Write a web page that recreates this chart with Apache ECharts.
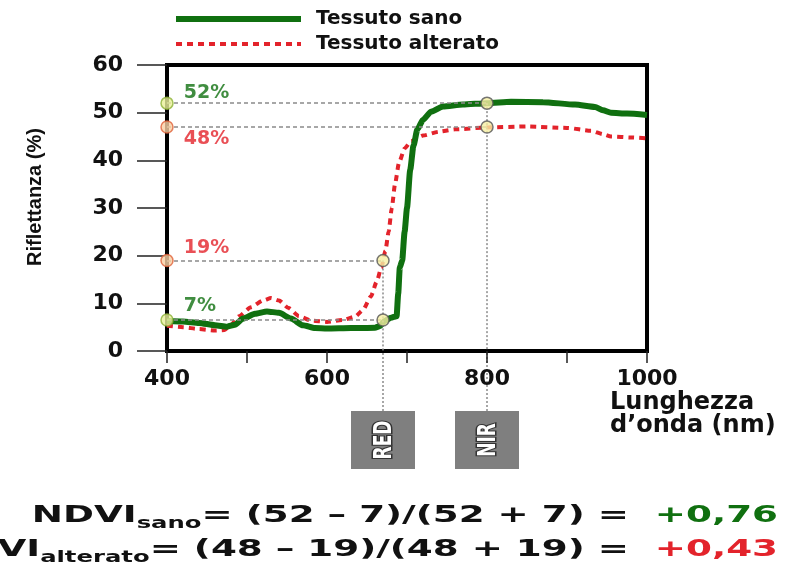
<!DOCTYPE html>
<html><head><meta charset="utf-8">
<script src="https://cdn.jsdelivr.net/npm/echarts@6/dist/echarts.min.js"></script>
<style>html,body{margin:0;padding:0;background:#fff}#c{width:793px;height:567px}</style>
</head><body><div id="c"></div>
<script>
// ---- data ----
const sanoX = [400,420,440,460,475,485,495,510,525,540,555,570,585,600,630,660,666,672,680,687,689,691,694,697,700,704,708,713,720,730,745,770,800,830,870,910,935,945,955,975,1000];
const sanoY = [6.3,6.2,5.9,5.4,5.1,5.5,6.8,7.8,8.3,8.0,6.8,5.4,4.8,4.7,4.8,4.9,5.2,6.3,7.0,7.3,12,17.5,19,25,30,38,43,46.5,48.5,50.2,51.3,51.7,52,52.3,52.2,51.7,51.2,50.5,50,49.8,49.5];
const altX = [400,420,440,460,472,480,490,505,520,530,540,552,565,580,600,620,635,645,655,662,668,673,677,681,685,690,697,705,720,740,760,800,850,900,930,945,955,980,1000];
const altY = [5.3,5.0,4.6,4.3,4.4,5.5,7.3,9.2,10.6,11.1,10.6,9.0,7.3,6.4,6.1,6.5,7.2,8.6,11.5,14.5,17.5,21,25,30,35,39.5,42.5,44,45.2,46,46.5,46.9,47.1,46.8,46.2,45.5,45,44.8,44.6];
const xTickLabels = [400, 600, 800, 1000];
const bandNames = ['RED', 'NIR'];
const bandNm = [670, 800];
const sanoRef = [6.5, 52];      // drawn reflectance at RED, NIR
const altRef = [19, 47];
const sanoRefLabel = [7, 52];   // printed percentages
const altRefLabel = [19, 48];
const seriesNames = ['Tessuto sano', 'Tessuto alterato'];

const GREEN = '#107010', RED = '#e3232b';
const chart = echarts.init(document.getElementById('c'), null, {renderer: 'canvas'});

function leftMarker(v, txt, color, fill, stroke, dy) {
  return {value: [400, v], symbolSize: 12,
    itemStyle: {color: fill, borderColor: stroke, borderWidth: 1.5},
    label: {show: true, formatter: txt + '%', position: 'right', distance: 10, offset: [0, dy],
      color: color, fontFamily: 'DejaVu Sans', fontWeight: 'bold', fontSize: 19}};
}
function innerMarker(x, v) {
  return {value: [x, v], symbolSize: 12,
    itemStyle: {color: '#f6efa2', borderColor: '#555', borderWidth: 1.5}};
}
const pts = [
  leftMarker(sanoRef[1], sanoRefLabel[1], GREEN, '#e9f09a', '#8fb33a', -10),
  leftMarker(altRef[1], altRefLabel[1], RED, '#f9cfa4', '#e0623a', 12),
  leftMarker(altRef[0], altRefLabel[0], RED, '#f9cfa4', '#e0623a', -12),
  leftMarker(sanoRef[0], sanoRefLabel[0], GREEN, '#e9f09a', '#8fb33a', -14),
  innerMarker(bandNm[1], sanoRef[1]), innerMarker(bandNm[1], altRef[1]),
  innerMarker(bandNm[0], altRef[0]), innerMarker(bandNm[0], sanoRef[0])
];
const guides = [
  [{coord: [400, sanoRef[1]]}, {coord: [bandNm[1], sanoRef[1]]}],
  [{coord: [400, altRef[1]]}, {coord: [bandNm[1], altRef[1]]}],
  [{coord: [400, altRef[0]]}, {coord: [bandNm[0], altRef[0]]}],
  [{coord: [400, sanoRef[0]]}, {coord: [bandNm[0], sanoRef[0]]}],
  [{coord: [bandNm[0], altRef[0]], lineStyle: {type: [2, 2]}}, {coord: [bandNm[0], 0]}],
  [{coord: [bandNm[1], sanoRef[1]], lineStyle: {type: [2, 2]}}, {coord: [bandNm[1], 0]}]
];

const axisFont = {fontFamily: 'DejaVu Sans', fontWeight: 'bold', fontSize: 22, color: '#111'};
chart.setOption({
  animation: false,
  backgroundColor: '#fff',
  grid: {left: 167, right: 146, top: 65, bottom: 216, show: true, borderColor: '#000', borderWidth: 4,
    backgroundColor: 'transparent', containLabel: false, outerBoundsMode: 'none'},
  legend: {
    orient: 'vertical', left: 173, top: 9, padding: 0, itemWidth: 125, itemHeight: 14, itemGap: 5,
    textStyle: {fontFamily: 'DejaVu Sans', fontWeight: 'bold', fontSize: 20, color: '#111', padding: [0, 0, 0, 10]},
    data: [
      {name: seriesNames[0], lineStyle: {width: 6}, itemStyle: {opacity: 0}},
      {name: seriesNames[1], lineStyle: {width: 4, type: [6, 5]}, itemStyle: {opacity: 0}}
    ]
  },
  xAxis: {
    type: 'value', min: 400, max: 1000, interval: 100,
    axisLine: {show: true, onZero: false, lineStyle: {color: '#000', width: 4}},
    axisTick: {show: true, length: 12, lineStyle: {color: '#222', width: 1.5}},
    axisLabel: {...axisFont, margin: 17, formatter: v => xTickLabels.includes(v) ? String(v) : ''},
    splitLine: {show: false},
    name: 'Lunghezza\nd\u2019onda (nm)', nameLocation: 'end', nameGap: -37, nameMoveOverlap: false,
    nameTextStyle: {fontFamily: 'DejaVu Sans', fontWeight: 'bold', fontSize: 24, color: '#111',
      align: 'left', verticalAlign: 'top', lineHeight: 23, padding: [40, 0, 0, 0]}
  },
  yAxis: {
    type: 'value', min: 0, max: 60, interval: 10,
    axisLine: {show: true, lineStyle: {color: '#000', width: 4}},
    axisTick: {show: true, length: 30, lineStyle: {color: '#222', width: 1.5}},
    axisLabel: {...axisFont, margin: 44},
    splitLine: {show: false},
    name: 'Riflettanza (%)', nameLocation: 'middle', nameRotate: 90, nameGap: 122, nameMoveOverlap: false,
    nameTextStyle: {fontFamily: 'Liberation Sans', fontWeight: 'bold', fontSize: 20, color: '#111', padding: [0, 0, 0, 22]}
  },
  series: [
    {name: 'guide', type: 'scatter', data: [], silent: true, z: 1,
     markLine: {silent: true, symbol: ['none', 'none'], label: {show: false},
       lineStyle: {color: '#8a8a8a', type: [4, 3], width: 1.5}, data: guides}},
    {name: seriesNames[0], type: 'line', data: sanoX.map((x, i) => [x, sanoY[i]]), symbol: 'none',
     smooth: 0.2, smoothMonotone: 'x', z: 3, lineStyle: {color: GREEN, width: 6}, itemStyle: {color: GREEN}},
    {name: seriesNames[1], type: 'line', data: altX.map((x, i) => [x, altY[i]]), symbol: 'none',
     smooth: 0.2, smoothMonotone: 'x', z: 2, lineStyle: {color: RED, width: 4, type: [6, 5]}, itemStyle: {color: RED}},
    {name: 'punti', type: 'scatter', data: pts, z: 5, symbol: 'circle'}
  ]
});

// ---- decorations built from the axes ----
const y0 = chart.convertToPixel({xAxisIndex: 0, yAxisIndex: 0}, [400, 0])[1];
const boxTop = 411, boxW = 64, boxH = 58;
const gfx = [];
bandNm.forEach((nm, i) => {
  const px = chart.convertToPixel({xAxisIndex: 0, yAxisIndex: 0}, [nm, 0])[0];
  gfx.push({type: 'line', shape: {x1: px, y1: y0 + 2, x2: px, y2: boxTop}, silent: true,
    style: {stroke: '#8a8a8a', lineWidth: 1.5, lineDash: [2, 2]}});
  gfx.push({type: 'rect', shape: {x: px - boxW / 2, y: boxTop, width: boxW, height: boxH}, silent: true,
    style: {fill: '#7f7f7f'}});
  gfx.push({type: 'text', x: px + 1, y: boxTop + boxH / 2, rotation: Math.PI / 2, scaleY: 1.5, silent: true,
    style: {text: bandNames[i], align: 'center', verticalAlign: 'middle', fill: '#fff',
      stroke: '#333', lineWidth: 2, fontFamily: 'DejaVu Sans', fontWeight: 'bold', fontSize: 17}});
});
function ndvi(nir, red) { return (nir - red) / (nir + red); }
function fmt(v) { return '+' + v.toFixed(2).replace('.', ','); }
const rich = {
  b: {fontFamily: 'DejaVu Sans', fontWeight: 'bold', fontSize: 23, fill: '#111'},
  s: {fontFamily: 'DejaVu Sans', fontWeight: 'bold', fontSize: 15, fill: '#111', padding: [16, 0, 0, 0]},
  g: {fontFamily: 'DejaVu Sans', fontWeight: 'bold', fontSize: 23, fill: GREEN},
  r: {fontFamily: 'DejaVu Sans', fontWeight: 'bold', fontSize: 23, fill: RED}
};
const l1 = '{b|NDVI}{s|sano}{b|= (' + sanoRefLabel[1] + ' \u2013 ' + sanoRefLabel[0] + ')/(' + sanoRefLabel[1] + ' + ' + sanoRefLabel[0] + ') =  }{g|' + fmt(ndvi(sanoRefLabel[1], sanoRefLabel[0])) + '}';
const l2 = '{b|NDVI}{s|alterato}{b|= (' + altRefLabel[1] + ' \u2013 ' + altRefLabel[0] + ')/(' + altRefLabel[1] + ' + ' + altRefLabel[0] + ') =  }{r|' + fmt(ndvi(altRefLabel[1], altRefLabel[0])) + '}';
gfx.push({type: 'text', x: 778, y: 516, scaleX: 1.62, silent: true,
  style: {text: l1, rich: rich, align: 'right', verticalAlign: 'middle'}});
gfx.push({type: 'text', x: 778, y: 550, scaleX: 1.62, silent: true,
  style: {text: l2, rich: rich, align: 'right', verticalAlign: 'middle'}});
chart.setOption({graphic: gfx});
</script></body></html>
